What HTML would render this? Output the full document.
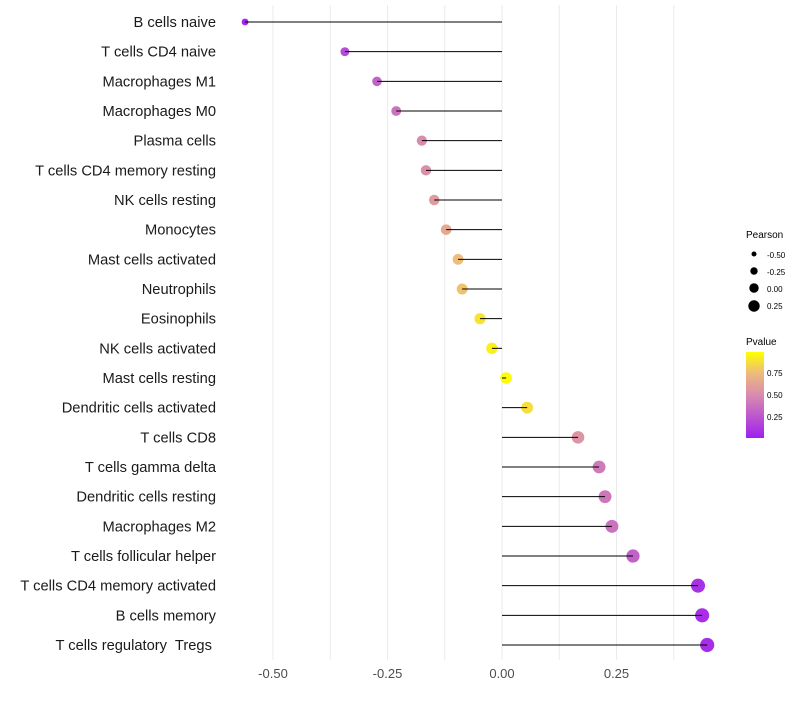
<!DOCTYPE html>
<html><head><meta charset="utf-8"><style>
body{margin:0;background:#fff;font-family:"Liberation Sans",sans-serif;}
svg text{font-family:"Liberation Sans",sans-serif;white-space:pre;}
</style></head><body>
<svg id="chart" width="800" height="700" viewBox="0 0 800 700">
<defs><linearGradient id="pg" x1="0" y1="1" x2="0" y2="0">
<stop offset="0" stop-color="#A020F0"/><stop offset="0.5" stop-color="#D88CAE"/><stop offset="0.75" stop-color="#EDBA7E"/><stop offset="1" stop-color="#FFFF00"/></linearGradient></defs>
<g id="grid"></g>
<g id="marks"></g>
<g id="labels"></g>
<g id="xticks"></g>
<g>
<text x="746" y="238" font-size="10" fill="#000">Pearson</text>
<circle cx="754" cy="254" r="2.5" fill="#000"/><text x="767" y="258" font-size="8">-0.50</text>
<circle cx="754" cy="271" r="3.7" fill="#000"/><text x="767" y="275" font-size="8">-0.25</text>
<circle cx="754" cy="288" r="4.7" fill="#000"/><text x="767" y="292" font-size="8">0.00</text>
<circle cx="754" cy="306" r="5.7" fill="#000"/><text x="767" y="309" font-size="8">0.25</text>
</g>
<g>
<text x="746" y="345" font-size="10">Pvalue</text>
<rect x="746" y="352" width="18" height="86" fill="url(#pg)"/>
<text x="767" y="376" font-size="8">0.75</text>
<text x="767" y="398" font-size="8">0.50</text>
<text x="767" y="420" font-size="8">0.25</text>
</g>
</svg>
<script>
const categories=["B cells naive","T cells CD4 naive","Macrophages M1","Macrophages M0","Plasma cells","T cells CD4 memory resting","NK cells resting","Monocytes","Mast cells activated","Neutrophils","Eosinophils","NK cells activated","Mast cells resting","Dendritic cells activated","T cells CD8","T cells gamma delta","Dendritic cells resting","Macrophages M2","T cells follicular helper","T cells CD4 memory activated","B cells memory","T cells regulatory  Tregs "];
const pearson=[-0.561,-0.343,-0.273,-0.231,-0.175,-0.166,-0.148,-0.122,-0.096,-0.087,-0.048,-0.022,0.009,0.055,0.166,0.212,0.225,0.240,0.286,0.428,0.437,0.448];
const pvalue=[0.02,0.2,0.3,0.38,0.5,0.52,0.58,0.66,0.76,0.78,0.9,0.95,0.99,0.88,0.55,0.42,0.40,0.38,0.3,0.08,0.07,0.06];
const xTicks=[-0.5,-0.25,0,0.25];
const xTickLabels=["-0.50","-0.25","0.00","0.25"];
const gridVals=[-0.5,-0.375,-0.25,-0.125,0,0.125,0.25,0.375];
const NS="http://www.w3.org/2000/svg";
const x=v=>502+v*458;
const y=i=>22+i*29.667;
const rad=v=>Math.sqrt(Math.max(4,33+38*v));
function lerp(a,b,t){return a.map((c,k)=>Math.round(c+(b[k]-c)*t));}
function col(p){const s=[[0,[160,32,240]],[0.5,[216,140,174]],[0.75,[237,186,126]],[1,[255,255,0]]];
for(let k=1;k<s.length;k++){if(p<=s[k][0]){const t=(p-s[k-1][0])/(s[k][0]-s[k-1][0]);return "rgb("+lerp(s[k-1][1],s[k][1],t).join(",")+")";}}return "rgb(255,255,0)";}
function mk(t,a,parent){const e=document.createElementNS(NS,t);for(const k in a)e.setAttribute(k,a[k]);parent.appendChild(e);return e;}
const grid=document.getElementById('grid'),marks=document.getElementById('marks'),labels=document.getElementById('labels'),xt=document.getElementById('xticks');
gridVals.forEach(v=>{const l=mk('line',{x1:x(v),x2:x(v),y1:5,y2:660,stroke:'#ebebeb','stroke-width':1},grid);

});
xTicks.forEach((v,i)=>{const t=mk('text',{x:x(v),y:678,'font-size':13,fill:'#4d4d4d','text-anchor':'middle'},xt);t.textContent=xTickLabels[i];

});
categories.forEach((c,i)=>{
const t=mk('text',{x:216,y:y(i)+5,'font-size':14.7,fill:'#1a1a1a','text-anchor':'end'},labels);t.textContent=c;


const ci=mk('circle',{cx:x(pearson[i]),cy:y(i),r:rad(pearson[i]),fill:col(pvalue[i])},marks);


const l=mk('line',{x1:x(0),x2:x(pearson[i]),y1:y(i),y2:y(i),stroke:'#000','stroke-width':1},marks);


});
</script>
</body></html>
